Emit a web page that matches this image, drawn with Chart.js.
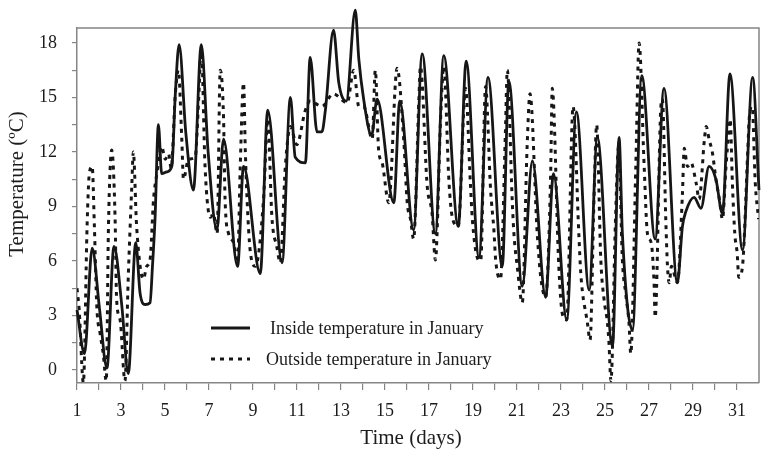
<!DOCTYPE html>
<html>
<head>
<meta charset="utf-8">
<script src="https://cdn.jsdelivr.net/npm/chart.js@4.4.0/dist/chart.umd.min.js"></script>
<style>
  html, body { margin: 0; padding: 0; background: #fff; }
  #wrap { width: 763px; height: 459px; position: relative; }
</style>
</head>
<body>
<div id="wrap"><canvas id="c"></canvas></div>
<script>
// values (day of month, degrees C)
const insideDays = [1.00, 1.34, 1.69, 2.02, 2.36, 2.68, 3.04, 3.33, 3.67, 3.87, 4.10, 4.32, 4.43, 4.55, 4.70, 4.85, 5.08, 5.31, 5.47, 5.64,
  5.95, 6.29, 6.65, 6.96, 7.36, 7.66, 8.30, 8.57, 9.33, 9.67, 10.32, 10.70, 10.92, 11.38, 11.60, 11.91, 12.13, 12.29, 12.66, 12.90,
  13.24, 13.65, 13.81, 14.03, 14.39, 14.64, 15.40, 15.67, 16.30, 16.69, 17.29, 17.67, 18.33, 18.69, 19.27, 19.68, 20.33, 20.63, 21.24, 21.70,
  22.30, 22.66, 23.26, 23.70, 24.28, 24.65, 25.34, 25.64, 25.79, 26.25, 26.67, 27.28, 27.68, 28.29, 28.52, 28.67, 29.05, 29.36, 29.73, 30.04,
  30.34, 30.68, 31.25, 31.71, 32.00];
const insideTemp = [3.3, 0.9, 6.7, 3.4, 0.1, 6.8, 3.5, -0.2, 7.0, 4.2, 3.6, 3.7, 5.7, 8.4, 13.5, 10.8, 10.9, 11.2, 15.2, 17.9,
  13.0, 9.9, 17.9, 12.0, 7.7, 12.7, 5.7, 11.2, 5.3, 14.3, 5.9, 15.0, 11.7, 11.4, 17.2, 13.1, 13.1, 14.3, 18.7, 15.8,
  14.8, 19.8, 17.1, 14.9, 12.9, 14.9, 9.2, 14.8, 7.7, 17.4, 7.5, 17.3, 7.9, 17.0, 6.2, 16.1, 5.7, 15.9, 4.6, 11.5,
  4.0, 10.8, 2.75, 14.2, 4.4, 12.8, 1.3, 12.8, 7.5, 2.2, 16.2, 7.2, 15.5, 4.8, 7.9, 8.7, 9.5, 8.9, 11.2, 10.5,
  8.6, 16.3, 6.6, 16.1, 9.9];

const outsideDays = [1.00, 1.10, 1.29, 1.46, 1.56, 1.69, 1.79, 1.90, 2.05, 2.19, 2.33, 2.43, 2.58, 2.73, 2.80, 2.96, 3.18, 3.33, 3.49, 3.56,
  3.71, 4.02, 4.17, 4.32, 4.48, 4.63, 4.85, 5.01, 5.16, 5.28, 5.47, 5.61, 5.76, 5.84, 6.07, 6.37, 6.53, 6.65, 6.82, 7.06,
  7.20, 7.37, 7.51, 7.66, 7.73, 7.89, 8.12, 8.30, 8.42, 8.57, 8.65, 8.73, 8.87, 9.11, 9.48, 9.67, 9.86, 10.08, 10.24, 10.47,
  10.70, 10.99, 11.38, 11.60, 12.13, 12.65, 13.28, 13.58, 13.81, 14.03, 14.42, 14.56, 14.71, 14.87, 15.17, 15.55, 15.86, 16.01, 16.16, 16.30,
  16.54, 16.61, 16.92, 17.14, 17.29, 17.53, 17.67, 17.91, 18.06, 18.33, 18.66, 18.88, 18.97, 19.19, 19.35, 19.57, 19.80, 19.95, 20.03, 20.25,
  20.47, 20.56, 20.78, 20.86, 21.01, 21.24, 21.46, 21.59, 21.92, 22.08, 22.30, 22.53, 22.60, 22.90, 23.06, 23.26, 23.55, 23.81, 23.90, 24.20,
  24.32, 24.50, 24.62, 24.81, 24.96, 25.11, 25.18, 25.27, 25.47, 25.62, 25.79, 25.94, 26.09, 26.17, 26.40, 26.55, 26.78, 26.93, 27.10, 27.23,
  27.28, 27.54, 27.61, 27.76, 27.84, 27.92, 28.02, 28.29, 28.52, 28.60, 28.75, 28.91, 29.14, 29.28, 29.52, 29.60, 29.73, 29.89, 30.04, 30.20,
  30.34, 30.50, 30.65, 30.69, 30.79, 30.90, 31.01, 31.08, 31.25, 31.49, 31.56, 31.69, 31.83, 31.98];
const outsideTemp = [4.5, 3.3, -0.7, 8.0, 10.8, 11.2, 7.9, 3.5, 2.0, 0.9, -0.6, 7.9, 12.1, 8.4, 3.9, 2.75, -0.6, 5.1, 10.1, 12.0,
  7.9, 5.0, 5.7, 6.05, 9.4, 10.8, 12.3, 11.6, 11.9, 11.1, 15.2, 16.5, 12.8, 10.5, 11.6, 11.7, 14.9, 17.8, 11.2, 8.4,
  8.6, 7.5, 16.5, 13.9, 9.4, 7.5, 7.0, 5.9, 11.2, 15.8, 12.1, 9.4, 6.6, 5.7, 9.4, 13.8, 8.4, 6.8, 5.9, 11.2,
  13.4, 12.4, 14.3, 14.8, 14.5, 15.2, 14.7, 16.5, 14.5, 14.5, 12.7, 16.5, 12.1, 11.4, 9.2, 16.6, 12.5, 9.2, 8.3, 7.2,
  14.9, 16.7, 10.1, 8.6, 6.05, 13.9, 16.7, 10.3, 8.4, 7.9, 15.5, 10.3, 8.3, 6.2, 6.0, 15.6, 9.9, 7.7, 6.05, 5.0,
  13.0, 16.5, 9.4, 7.5, 5.7, 3.7, 12.3, 15.2, 7.5, 5.1, 4.0, 10.8, 15.5, 5.7, 3.1, 2.75, 14.5, 7.5, 5.3, 2.6,
  1.65, 9.4, 13.5, 6.05, 3.85, 2.6, 1.5, -0.6, 8.0, 12.3, 6.05, 4.2, 2.6, 0.9, 11.2, 18.0, 11.2, 7.5, 7.0, 4.8,
  2.9, 14.5, 14.9, 8.4, 5.7, 4.8, 5.7, 4.8, 9.7, 12.2, 11.2, 11.4, 10.3, 9.4, 12.7, 13.4, 12.7, 11.9, 10.5, 9.4,
  8.3, 11.2, 13.4, 13.8, 10.3, 7.5, 6.4, 5.1, 5.7, 12.1, 13.9, 14.5, 10.3, 8.3];

const dayTicks = [1, 2, 3, 4, 5, 6, 7, 8, 9, 10, 11, 12, 13, 14, 15, 16, 17, 18, 19, 20, 21, 22, 23, 24, 25, 26, 27, 28, 29, 30, 31];
const tempTicks = [0, 1.5, 3, 4.5, 6, 7.5, 9, 10.5, 12, 13.5, 15, 16.5, 18];

const seriesNames = ['Inside temperature in January', 'Outside temperature in January'];

const SERIF = "'Liberation Serif', 'Times New Roman', serif";
const INK = '#161616';
const AXIS = '#858585';

const frame = {
  id: 'frame',
  beforeDatasetsDraw(chart) {
    const { ctx, chartArea: a } = chart;
    ctx.save();
    ctx.strokeStyle = AXIS;
    ctx.lineWidth = 1.5;
    ctx.beginPath();
    ctx.moveTo(a.left, a.top);
    ctx.lineTo(a.right, a.top);
    ctx.lineTo(a.right, a.bottom);
    ctx.stroke();
    ctx.restore();
  },
  afterDraw(chart) {
    const { ctx } = chart;
    ctx.save();
    ctx.fillStyle = '#1c1c1c';
    ctx.font = '21px ' + SERIF;
    ctx.textAlign = 'center';
    ctx.textBaseline = 'middle';
    ctx.fillText('Time (days)', 411, 438);
    ctx.translate(17, 184);
    ctx.rotate(-Math.PI / 2);
    ctx.fillText('Temperature (ºC)', 0, 0);
    ctx.restore();

    // legend inside the plot
    const rows = [
      { y: 328, tx: 270, ds: chart.data.datasets[0] },
      { y: 359, tx: 266, ds: chart.data.datasets[1] }
    ];
    ctx.save();
    rows.forEach(r => {
      ctx.strokeStyle = r.ds.borderColor;
      ctx.lineWidth = r.ds.borderWidth;
      ctx.setLineDash(r.ds.borderDash || []);
      ctx.beginPath();
      ctx.moveTo(211, r.y);
      ctx.lineTo(250, r.y);
      ctx.stroke();
      ctx.setLineDash([]);
      ctx.fillStyle = '#1c1c1c';
      ctx.font = '18px ' + SERIF;
      ctx.textAlign = 'left';
      ctx.textBaseline = 'middle';
      ctx.fillText(r.ds.label, r.tx, r.y + 1);
    });
    ctx.restore();
  }
};

new Chart(document.getElementById('c'), {
  type: 'line',
  data: {
    datasets: [
      {
        label: seriesNames[0],
        data: insideDays.map((d, i) => ({ x: d, y: insideTemp[i] })),
        borderColor: INK,
        borderWidth: 2.8,
        pointRadius: 0,
        cubicInterpolationMode: 'monotone',
        clip: { left: 2, top: 25, right: 2, bottom: 2 }
      },
      {
        label: seriesNames[1],
        data: outsideDays.map((d, i) => ({ x: d, y: outsideTemp[i] })),
        borderColor: INK,
        borderWidth: 3,
        borderDash: [4, 5],
        pointRadius: 0,
        cubicInterpolationMode: 'monotone'
      }
    ]
  },
  options: {
    responsive: true,
    maintainAspectRatio: false,
    animation: false,
    devicePixelRatio: 1,
    layout: { padding: { left: 0, right: 4, top: 28, bottom: 0 } },
    plugins: { legend: { display: false }, tooltip: { enabled: false } },
    scales: {
      x: {
        type: 'linear',
        min: 1,
        max: 32,
        afterBuildTicks: s => { s.ticks = dayTicks.map(v => ({ value: v })); },
        afterFit: s => { s.height = 76; },
        grid: { drawOnChartArea: false, drawTicks: true, tickLength: 7, color: AXIS, lineWidth: 1.2 },
        border: { color: AXIS, width: 1.5 },
        ticks: {
          autoSkip: false,
          maxRotation: 0,
          padding: 10,
          color: '#1c1c1c',
          font: { family: SERIF, size: 18 },
          callback: v => (v % 2 === 1 ? String(v) : '')
        }
      },
      y: {
        min: -0.72,
        max: 18.82,
        afterBuildTicks: s => { s.ticks = tempTicks.map(v => ({ value: v })); },
        afterFit: s => { s.width = 77; },
        grid: { drawOnChartArea: false, drawTicks: true, tickLength: 5, color: AXIS, lineWidth: 1.2 },
        border: { color: AXIS, width: 1.5 },
        ticks: {
          padding: 15,
          color: '#1c1c1c',
          font: { family: SERIF, size: 18 },
          callback: v => (v % 3 === 0 ? String(v) : '')
        }
      }
    }
  },
  plugins: [frame]
});
</script>
</body>
</html>
